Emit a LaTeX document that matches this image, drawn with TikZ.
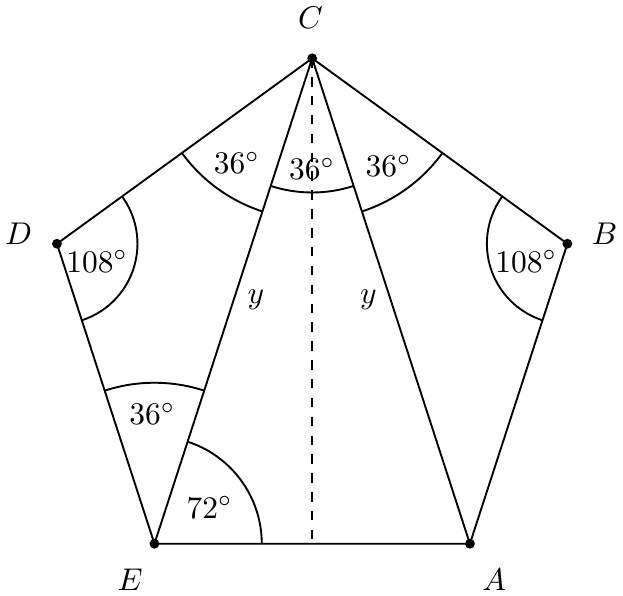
\documentclass[tikz,border=0pt]{standalone}
\usetikzlibrary{calc}
\begin{document}
\begin{tikzpicture}[line width=0.6pt,
  vdot/.style={circle,fill=black,inner sep=0pt,minimum size=0.11cm},
  lbl/.style={inner sep=0pt}]
\useasboundingbox (-3.49,-3.0) rectangle (3.475,3.652);
\coordinate (C) at (90:3);
\coordinate (B) at (18:3);
\coordinate (A) at (-54:3);
\coordinate (E) at (234:3);
\coordinate (D) at (162:3);
\coordinate (M) at ($(E)!0.5!(A)$);
\draw (C) -- (B) -- (A) -- (E) -- (D) -- cycle;
\draw (E) -- (C) -- (A);
\draw[dashed] (C) -- (M);
% arcs
\draw ([shift={(216:1.8)}]C) arc[start angle=216,end angle=252,radius=1.8];
\draw ([shift={(288:1.8)}]C) arc[start angle=288,end angle=324,radius=1.8];
\draw ([shift={(252:1.5)}]C) arc[start angle=252,end angle=288,radius=1.5];
\draw ([shift={(-72:0.9)}]D) arc[start angle=-72,end angle=36,radius=0.9];
\draw ([shift={(144:0.9)}]B) arc[start angle=144,end angle=252,radius=0.9];
\draw ([shift={(72:1.8)}]E) arc[start angle=72,end angle=108,radius=1.8];
\draw ([shift={(0:1.2)}]E) arc[start angle=0,end angle=72,radius=1.2];
% vertices
\foreach \p in {A,B,C,D,E} \node[vdot] (d\p) at (\p) {};
% labels
\node[lbl] (lC) at (-0.02,3.449) {$C$};
\node[lbl] (lB) at (3.27,1.034) {$B$};
\node[lbl] (lD) at (-3.281,1.034) {$D$};
\node[lbl] (lE) at (-2.034,-2.831) {$E$};
\node[lbl] (lA) at (2.034,-2.831) {$A$};
\node[lbl] (a1) at (-0.843,1.831) {$36^\circ$};
\node[lbl] (a2) at (0,1.764) {$36^\circ$};
\node[lbl] (a3) at (0.854,1.798) {$36^\circ$};
\node[lbl] (a4) at (-2.404,0.730) {$108^\circ$};
\node[lbl] (a5) at (2.393,0.730) {$108^\circ$};
\node[lbl] (a6) at (-1.787,-0.978) {$36^\circ$};
\node[lbl] (a7) at (-1.146,-2.022) {$72^\circ$};
\node[lbl] (y1) at (-0.629,0.303) {$y$};
\node[lbl] (y2) at (0.629,0.303) {$y$};
\end{tikzpicture}
\end{document}
